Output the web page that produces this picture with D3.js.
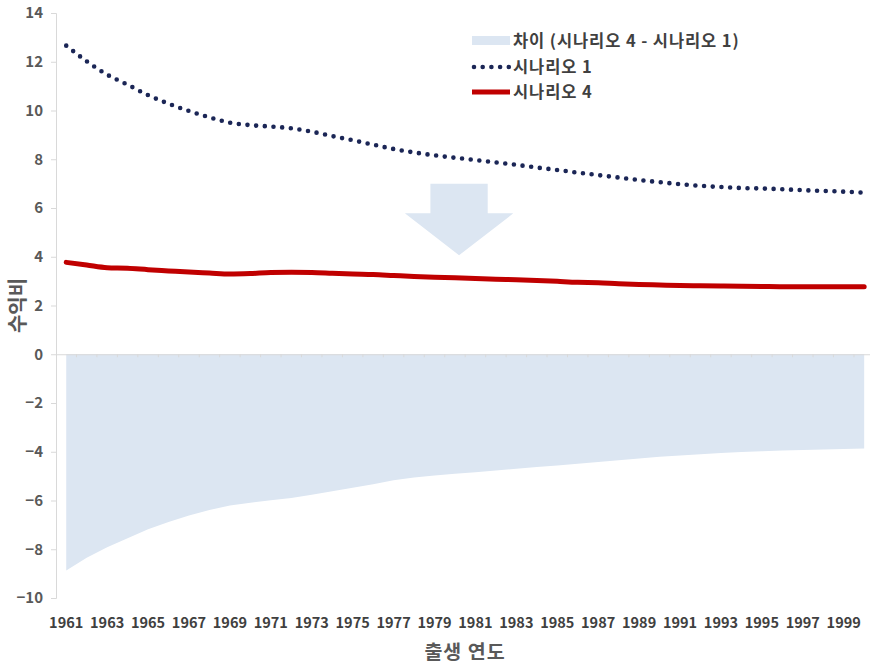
<!DOCTYPE html>
<html><head><meta charset="utf-8">
<script src="https://cdn.jsdelivr.net/npm/d3@7"></script>
<style>
html,body{margin:0;padding:0;background:#fff;}
svg{display:block;font-family:"Noto Sans CJK KR","Noto Sans",sans-serif;}
</style></head>
<body><svg id="chart" width="870" height="667"></svg>
<script>
const years = d3.range(1961, 2001);
const xTickLabels = d3.range(1961, 2000, 2);
const yTicks = [14,12,10,8,6,4,2,0,-2,-4,-6,-8,-10];
const scenario1 = [12.66,12.02,11.47,11.06,10.63,10.28,9.98,9.72,9.50,9.40,
  9.34,9.27,9.13,8.95,8.78,8.60,8.42,8.28,8.16,8.06,
  7.97,7.87,7.77,7.66,7.56,7.45,7.35,7.25,7.15,7.06,
  6.98,6.91,6.86,6.82,6.80,6.77,6.73,6.70,6.67,6.63];
const scenario4 = [3.77,3.66,3.55,3.53,3.47,3.42,3.37,3.33,3.29,3.31,
  3.35,3.36,3.35,3.32,3.29,3.27,3.23,3.19,3.16,3.14,
  3.11,3.08,3.06,3.03,2.99,2.95,2.93,2.89,2.86,2.84,
  2.82,2.81,2.80,2.79,2.78,2.77,2.77,2.77,2.77,2.77];
const difference = [-8.87,-8.35,-7.92,-7.55,-7.18,-6.88,-6.62,-6.39,-6.20,-6.09,
  -5.99,-5.90,-5.76,-5.62,-5.48,-5.33,-5.17,-5.06,-4.97,-4.90,
  -4.84,-4.77,-4.70,-4.63,-4.56,-4.49,-4.42,-4.35,-4.28,-4.21,
  -4.15,-4.10,-4.05,-4.01,-3.98,-3.95,-3.93,-3.91,-3.89,-3.87];
const legendLabels = ["차이 (시나리오 4 - 시나리오 1)", "시나리오 1", "시나리오 4"];
const yTitle = "수익비";
const xTitle = "출생 연도";
// arrow annotation in data units: [year, value]
const arrowCenterYear = 1980.2, arrowShaftHalf = 1.4, arrowHeadHalf = 2.65;
const arrowTop = 7.0, arrowNeck = 5.78, arrowTip = 4.06;

const svg = d3.select("#chart");
const plotLeft = 56, plotRight = 874.4, plotTop = 13, plotBottom = 598;
const x = d3.scaleBand().domain(years).range([plotLeft, plotRight]);
const xc = yr => x(yr) + x.bandwidth()/2;
const xl = d3.scaleLinear().domain([1961, 2000]).range([xc(1961), xc(2000)]);
const y = d3.scaleLinear().domain([-10, 14]).range([plotBottom, plotTop]);

const c1 = "#1B2656", c4 = "#C00000", cArea = "#DCE6F2", axisC = "#D9D9D9";

// area
svg.append("path")
  .datum(years.map((yr,i)=>({yr, v: difference[i]})))
  .attr("fill", cArea)
  .attr("d", d3.area().x(d=>xc(d.yr)).y0(y(0)).y1(d=>y(d.v)));

// y axis
const yAxis = d3.axisLeft(y).tickValues(yTicks).tickSize(5).tickPadding(8).tickFormat(d3.format("d"));
const gy = svg.append("g").attr("transform", `translate(${plotLeft},0)`).call(yAxis);
gy.select(".domain").attr("stroke", axisC);
gy.selectAll(".tick line").attr("stroke", axisC);
gy.selectAll(".tick text").attr("fill", "#595959").attr("font-size", 15).attr("font-weight", "bold")
  .attr("font-family", "'Noto Sans CJK KR', sans-serif");

// zero line with category ticks
const gz = svg.append("g").attr("transform", `translate(0,${y(0)})`)
  .call(d3.axisBottom(x).tickValues([]).tickSizeOuter(0));
gz.select(".domain").attr("stroke", axisC);
gz.selectAll(".cat").data(years.slice(1)).enter().append("line")
  .attr("x1", d=>x(d)).attr("x2", d=>x(d)).attr("y1", 0).attr("y2", 3).attr("stroke", axisC);

// x labels
svg.append("g").selectAll("text").data(xTickLabels).enter().append("text")
  .attr("x", d=>xc(d)).attr("y", 628).attr("text-anchor", "middle")
  .attr("font-size", 14.5).attr("font-weight", "bold").attr("fill", "#404040")
  .text(d=>d);

// arrow
const arrowPts = [
  [arrowCenterYear-arrowShaftHalf, arrowTop],[arrowCenterYear+arrowShaftHalf, arrowTop],
  [arrowCenterYear+arrowShaftHalf, arrowNeck],[arrowCenterYear+arrowHeadHalf, arrowNeck],
  [arrowCenterYear, arrowTip],[arrowCenterYear-arrowHeadHalf, arrowNeck],
  [arrowCenterYear-arrowShaftHalf, arrowNeck]];
svg.append("polygon").attr("fill", cArea)
  .attr("points", arrowPts.map(p=>[xl(p[0]), y(p[1])].join(",")).join(" "));

// lines
const line = d3.line().x(d=>xc(d.yr)).y(d=>y(d.v)).curve(d3.curveMonotoneX);
svg.append("path").datum(years.map((yr,i)=>({yr, v: scenario4[i]})))
  .attr("fill","none").attr("stroke", c4).attr("stroke-width", 5).attr("stroke-linecap","round")
  .attr("d", line);
svg.append("path").datum(years.map((yr,i)=>({yr, v: scenario1[i]})))
  .attr("fill","none").attr("stroke", c1).attr("stroke-width", 4.6).attr("stroke-linecap","round")
  .attr("stroke-dasharray", "0 8.7").attr("d", line);

// legend
const lg = svg.append("g").attr("transform", "translate(472,0)");
lg.append("rect").attr("x",0).attr("y",36).attr("width",38).attr("height",9).attr("fill", cArea);
lg.append("line").attr("x1",2).attr("x2",38).attr("y1",67).attr("y2",67)
  .attr("stroke", c1).attr("stroke-width", 4.6).attr("stroke-linecap","round").attr("stroke-dasharray","0 8.7");
lg.append("line").attr("x1",0).attr("x2",38).attr("y1",92).attr("y2",92)
  .attr("stroke", c4).attr("stroke-width", 5);
const ly = [41, 67, 92];
lg.selectAll("text.lab").data(legendLabels).enter().append("text")
  .attr("x", 41).attr("y", (d,i)=>ly[i]).attr("dy","0.35em")
  .attr("font-size", 16.5).attr("font-weight", "bold").attr("letter-spacing", "0.9px")
  .attr("fill", "#404040").text(d=>d);

// titles
svg.append("text").attr("transform", `translate(18,${(plotTop+plotBottom)/2}) rotate(-90)`)
  .attr("text-anchor","middle").attr("dy","0.35em").attr("font-size", 20).attr("font-weight", "bold")
  .attr("fill", "#595959").text(yTitle);
svg.append("text").attr("x", 465).attr("y", 652).attr("text-anchor","middle").attr("dy","0.35em")
  .attr("font-size", 19.5).attr("font-weight", "bold").attr("letter-spacing", "1px")
  .attr("fill", "#595959").text(xTitle);
</script></body></html>
